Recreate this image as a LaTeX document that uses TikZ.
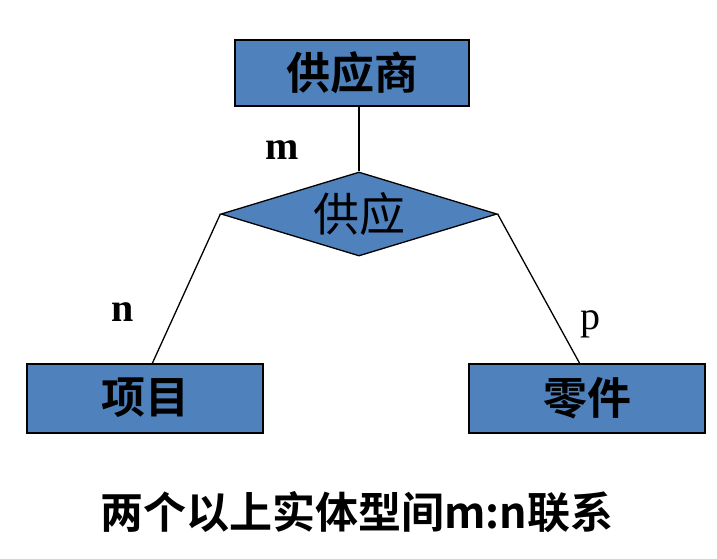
\documentclass[tikz,border=0pt]{standalone}
\usepackage{fontspec}
\setmainfont{Liberation Serif}
\newfontfamily\cjk{Noto Sans CJK SC}
\newfontfamily\cjkb{Noto Sans CJK SC Bold}
\usetikzlibrary{positioning}
\usetikzlibrary{shapes.geometric}
\definecolor{boxblue}{RGB}{79,129,189}

\begin{document}
\begin{tikzpicture}[x=1pt,y=-1pt,
ent/.style={rectangle,draw,line width=2pt,fill=boxblue,minimum width=234pt,minimum height=66pt,inner sep=0pt,font=\cjkb\fontsize{44}{44}\selectfont},
rel/.style={diamond,draw,line width=1.3pt,fill=boxblue,minimum width=276pt,minimum height=84pt,inner sep=0pt},
card/.style={inner sep=0pt,font=\fontsize{40}{40}\selectfont}]
\useasboundingbox (0,0) rectangle (717,558);
\node[ent] (E1) at (352,73) {供应商};
\node[rel,label={[font=\cjk\fontsize{46}{46}\selectfont]center:供应}] (R1) at (359,214) {};
\node[ent,minimum height=69pt,minimum width=236pt] (E2) at (145,398) {项目};
\node[ent,minimum height=69pt,minimum width=236pt] (E3) at (587,398) {零件};
\coordinate (E1b) at (E1.south -| R1.north);
\coordinate (E2t) at (152,364);
\coordinate (E3t) at (580,364);
\draw[line width=1.3pt] (E1b)--(R1.north);
\draw[line width=1.3pt] (R1.west)--(E2t);
\draw[line width=1.3pt] (R1.east)--(E3t);
\node[card,font=\bfseries\fontsize{40}{40}\selectfont] (m) at (282,150) {m};
\node[card,font=\bfseries\fontsize{40}{40}\selectfont] (n) at (123,312) {n};
\node[card] (p) at (590,324) {p};
\node[inner sep=0pt,font=\cjkb\fontsize{43}{43}\selectfont] (cap) at (357,512) {两个以上实体型间m:n联系};
\end{tikzpicture}
\end{document}
